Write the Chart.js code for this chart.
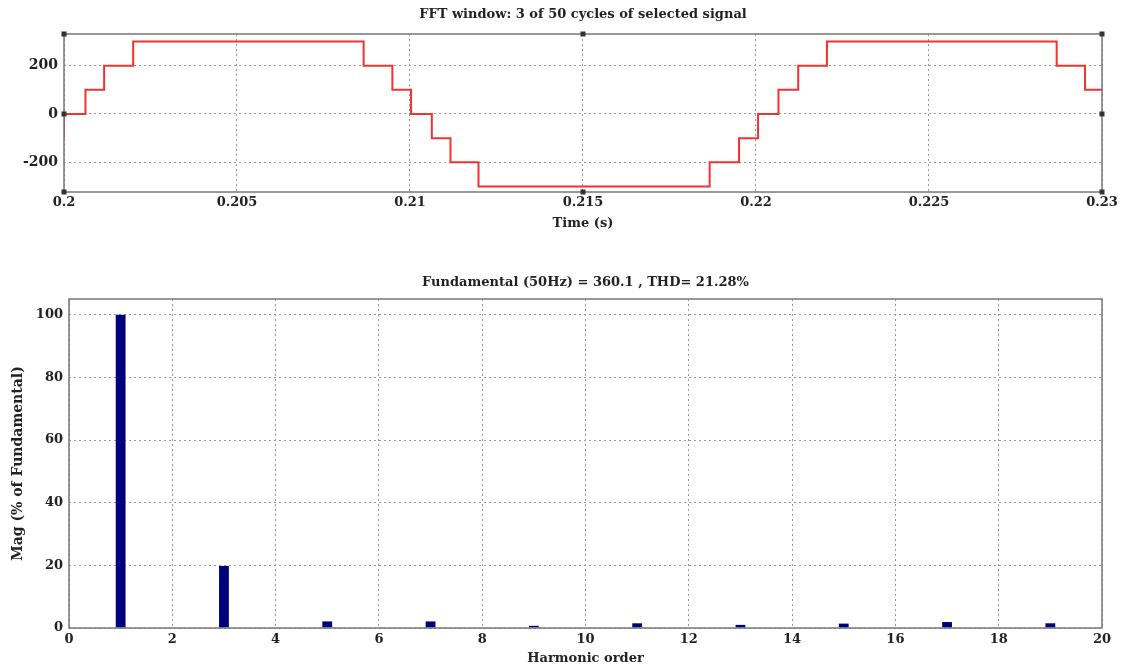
<!DOCTYPE html>
<html><head><meta charset="utf-8">
<script src="https://cdn.jsdelivr.net/npm/chart.js@4.4.1/dist/chart.umd.min.js"></script>
<style>
html,body{margin:0;padding:0;background:#fff;}
#wrap{position:relative;width:1121px;height:668px;overflow:hidden;background:#fff;}
#c1{position:absolute;left:0;top:0;}
#c2{position:absolute;left:0;top:240px;}
</style></head><body>
<div id="wrap">
<canvas id="c1" width="1121" height="240"></canvas>
<canvas id="c2" width="1121" height="428"></canvas>
</div>
<script>
// ---- Top chart data: stepped multilevel waveform ----
const waveTime = [0.2, 0.2, 0.20062, 0.20116, 0.20200, 0.20866, 0.20949, 0.21003, 0.21063, 0.21117, 0.21198,
                  0.21866, 0.21951, 0.22006, 0.22065, 0.22122, 0.22205, 0.22869, 0.22951, 0.23];
const waveVolt = [-100, 0, 100, 200, 300, 200, 100, 0, -100, -200, -300,
                  -200, -100, 0, 100, 200, 300, 200, 100, 100];
const timeTicks = [0.2, 0.205, 0.21, 0.215, 0.22, 0.225, 0.23];
const timeTickLabels = ['0.2', '0.205', '0.21', '0.215', '0.22', '0.225', '0.23'];
const voltTicks = [-200, 0, 200];
const voltMin = -323;
const voltMax = 331;
const cornerMarkTimes = [0.2, 0.215, 0.23];
const edgeMarkTimes = [0.2, 0.23];
const topTitle = 'FFT window: 3 of 50 cycles of selected signal';
const topXTitle = 'Time (s)';

// ---- Bottom chart data: harmonic spectrum ----
const harmonicOrder = [0, 1, 2, 3, 4, 5, 6, 7, 8, 9, 10, 11, 12, 13, 14, 15, 16, 17, 18, 19, 20];
const harmonicMag   = [0, 100, 0, 19.8, 0, 2.1, 0, 2.1, 0, 0.7, 0, 1.5, 0, 1.0, 0, 1.4, 0, 1.9, 0, 1.5, 0];
const orderTicks = [0, 2, 4, 6, 8, 10, 12, 14, 16, 18, 20];
const magTicks = [0, 20, 40, 60, 80, 100];
const magMax = 105;
const bottomTitle = 'Fundamental (50Hz) = 360.1 , THD= 21.28%';
const bottomXTitle = 'Harmonic order';
const bottomYTitle = 'Mag (% of Fundamental)';

const FONT = "'DejaVu Serif', 'Liberation Serif', serif";
Chart.defaults.font.family = FONT;
Chart.defaults.font.weight = 'bold';
Chart.defaults.font.size = 13;
Chart.defaults.color = '#222';

const boxPlugin = {
  id: 'box',
  afterDatasetsDraw(chart, args, opts) {
    const {ctx, chartArea: a, scales} = chart;
    ctx.save();
    ctx.strokeStyle = '#777';
    ctx.lineWidth = 1.5;
    ctx.strokeRect(a.left, a.top, a.right - a.left, a.bottom - a.top);
    if (opts.marks) {
      ctx.fillStyle = '#333';
      const s = 5;
      cornerMarkTimes.forEach(t => {
        const x = scales.x.getPixelForValue(t);
        ctx.fillRect(x - s / 2, a.top - s / 2, s, s);
        ctx.fillRect(x - s / 2, a.bottom - s / 2, s, s);
      });
      edgeMarkTimes.forEach(t => {
        const x = scales.x.getPixelForValue(t);
        const y = scales.y.getPixelForValue(0);
        ctx.fillRect(x - s / 2, y - s / 2, s, s);
      });
    }
    ctx.restore();
  }
};

const gridCommon = { color: '#9a9a9a', lineWidth: 1, drawTicks: false };
const borderCommon = { display: false, dash: [2, 3] };

// ---- Top chart ----
new Chart(document.getElementById('c1'), {
  type: 'line',
  data: {
    datasets: [{
      data: waveTime.map((t, i) => ({x: t, y: waveVolt[i]})),
      borderColor: 'rgb(240,50,50)',
      borderWidth: 2,
      pointRadius: 0,
      stepped: 'before',
      fill: false
    }]
  },
  options: {
    responsive: false,
    animation: false,
    layout: { padding: { left: 0, right: 19, top: 0, bottom: 8 } },
    plugins: {
      legend: { display: false },
      tooltip: { enabled: false },
      title: {
        display: true, text: topTitle, fullSize: false,
        font: { size: 13, weight: 'bold', family: FONT },
        color: '#222',
        padding: { top: 6.5, bottom: 11.9 }
      },
      box: { marks: true }
    },
    scales: {
      x: {
        type: 'linear', min: 0.2, max: 0.23,
        afterBuildTicks: s => { s.ticks = timeTicks.map(v => ({value: v})); },
        afterFit: s => { s.height = 40; },
        ticks: { autoSkip: false, maxRotation: 0, padding: 3, callback: (v, i) => timeTickLabels[i] },
        grid: gridCommon,
        border: borderCommon,
        title: { display: true, text: topXTitle, padding: { top: 0, bottom: 0.2 }, font: { size: 13, weight: 'bold', family: FONT } }
      },
      y: {
        type: 'linear', min: voltMin, max: voltMax,
        afterBuildTicks: s => { s.ticks = voltTicks.map(v => ({value: v})); },
        afterFit: s => { s.width = 64; },
        ticks: { padding: 6, font: { size: 14, weight: 'bold', family: FONT } },
        grid: gridCommon,
        border: borderCommon
      }
    }
  },
  plugins: [boxPlugin]
});

// ---- Bottom chart ----
new Chart(document.getElementById('c2'), {
  type: 'bar',
  data: {
    datasets: [{
      data: harmonicOrder.map((h, i) => ({x: h, y: harmonicMag[i]})),
      backgroundColor: '#00007c',
      borderWidth: 0,
      categoryPercentage: 1,
      barPercentage: 0.19
    }]
  },
  options: {
    responsive: false,
    animation: false,
    layout: { padding: { left: 0, right: 19, top: 0, bottom: 0 } },
    plugins: {
      legend: { display: false },
      tooltip: { enabled: false },
      title: {
        display: true, text: bottomTitle, fullSize: false,
        font: { size: 13, weight: 'bold', family: FONT },
        color: '#222',
        padding: { top: 35.2, bottom: 8.2 }
      },
      box: { marks: false }
    },
    scales: {
      x: {
        type: 'linear', min: 0, max: 20, offset: false,
        afterBuildTicks: s => { s.ticks = orderTicks.map(v => ({value: v})); },
        afterFit: s => { s.height = 40; },
        ticks: { autoSkip: false, maxRotation: 0, padding: 4 },
        grid: Object.assign({ offset: false }, gridCommon),
        border: borderCommon,
        title: { display: true, text: bottomXTitle, padding: { top: 0, bottom: 1.2 }, font: { size: 13, weight: 'bold', family: FONT } }
      },
      y: {
        type: 'linear', min: 0, max: magMax,
        afterBuildTicks: s => { s.ticks = magTicks.map(v => ({value: v})); },
        afterFit: s => { s.width = 69; },
        ticks: { padding: 6 },
        grid: gridCommon,
        border: borderCommon,
        title: { display: true, text: bottomYTitle, padding: { top: 9.6, bottom: 0 }, font: { size: 14, weight: 'bold', family: FONT } }
      }
    }
  },
  plugins: [boxPlugin]
});
</script>
</body></html>
